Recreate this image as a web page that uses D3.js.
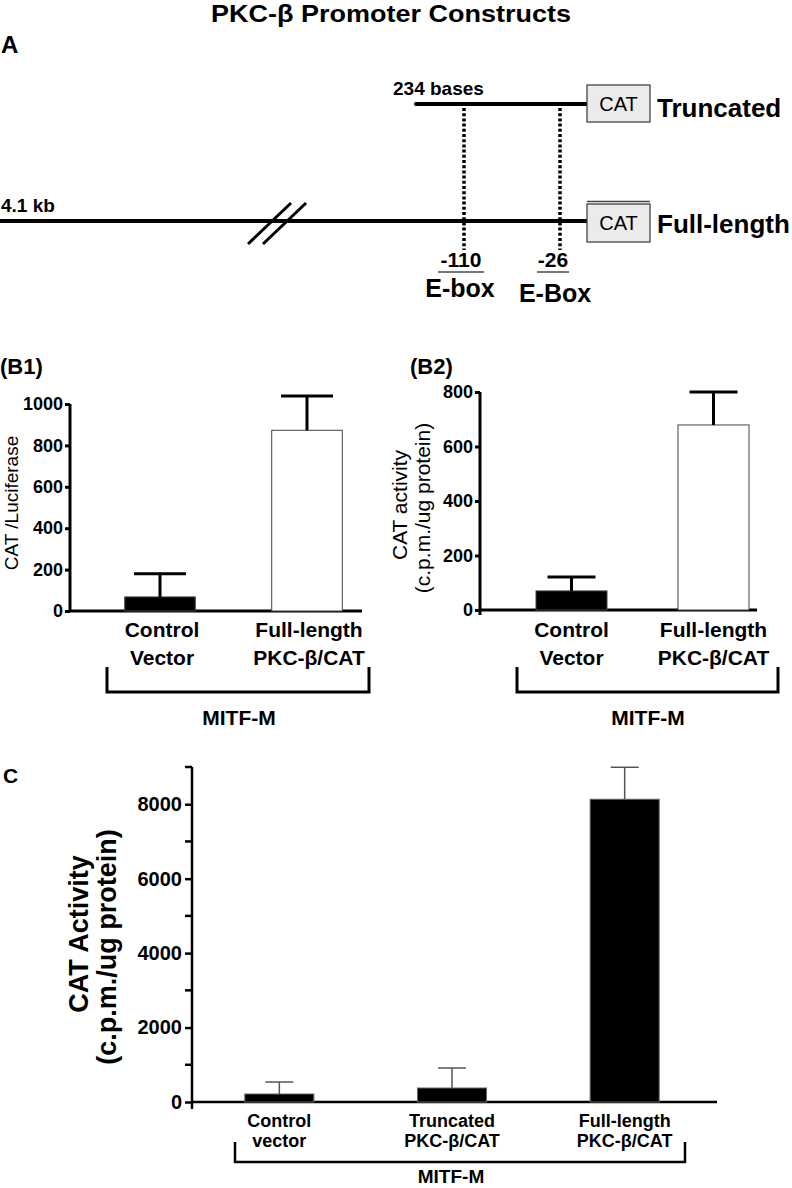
<!DOCTYPE html>
<html>
<head>
<meta charset="utf-8">
<script src="https://cdn.jsdelivr.net/npm/d3@7"></script>
<style>
  html, body { margin: 0; padding: 0; background: #fff; }
  svg { display: block; }
  text { font-family: "Liberation Sans", Arial, Helvetica, sans-serif; fill: #000; }
</style>
</head>
<body>
<svg id="chart" width="792" height="1188"></svg>
<script>
// ---------------- DATA ----------------
const titleText = "PKC-β Promoter Constructs";

// Panel A: promoter schematic labels
const eboxPositions = [-110, -26];
const eboxLabels = ["E-box", "E-Box"];
const constructNames = ["Truncated", "Full-length"];
const constructStarts = ["234 bases", "4.1 kb"];

// Panel B1
const b1Categories = [["Control", "Vector"], ["Full-length", "PKC-β/CAT"]];
const b1Means = [68, 873];
const b1Errors = [112, 166];
const b1Ticks = [0, 200, 400, 600, 800, 1000];

// Panel B2
const b2Categories = [["Control", "Vector"], ["Full-length", "PKC-β/CAT"]];
const b2Means = [70, 679];
const b2Errors = [51, 121];
const b2Ticks = [0, 200, 400, 600, 800];

// Panel C
const cCategories = [["Control", "vector"], ["Truncated", "PKC-β/CAT"], ["Full-length", "PKC-β/CAT"]];
const cMeans = [215, 376, 8134];
const cErrors = [322, 537, 859];
const cTicks = [0, 2000, 4000, 6000, 8000];
const cMinorTicks = [1000, 3000, 5000, 7000, 9000];

const groupLabel = "MITF-M";

// ---------------- DRAW ----------------
const svg = d3.select("#chart");
const FONT = '"Liberation Sans", Arial, Helvetica, sans-serif';

// Title
svg.append("text")
  .attr("x", 391).attr("y", 22)
  .attr("text-anchor", "middle")
  .attr("font-size", 23).attr("font-weight", "bold")
  .attr("textLength", 360).attr("lengthAdjust", "spacingAndGlyphs")
  .text(titleText);

// Panel letters
svg.append("text").attr("x", 1).attr("y", 53).attr("font-size", 24).attr("font-weight", "bold").text("A");
svg.append("text").attr("x", 0).attr("y", 374).attr("font-size", 22).attr("font-weight", "bold").text("(B1)");
svg.append("text").attr("x", 410).attr("y", 374).attr("font-size", 22).attr("font-weight", "bold").text("(B2)");
svg.append("text").attr("x", 3).attr("y", 783).attr("font-size", 21).attr("font-weight", "bold").text("C");

// ---------- Panel A ----------
const A = svg.append("g");
const xA = d3.scaleLinear().domain([-110, -26]).range([464, 560]);
const catX = 587, catW = 63;
const rowY = [104, 221];
const lineStart = [416, 0];

rowY.forEach((y, i) => {
  A.append("line").attr("x1", lineStart[i]).attr("x2", catX).attr("y1", y).attr("y2", y)
    .attr("stroke", "#000").attr("stroke-width", 4).attr("stroke-linecap", i === 0 ? "round" : "butt");
});
[[248, 291], [263, 306]].forEach(([xa, xb]) => {
  A.append("line").attr("x1", xa).attr("y1", 244).attr("x2", xb).attr("y2", 203)
    .attr("stroke", "#000").attr("stroke-width", 3);
});
eboxPositions.forEach(p => {
  A.append("line").attr("x1", xA(p)).attr("x2", xA(p)).attr("y1", 108).attr("y2", 250)
    .attr("stroke", "#000").attr("stroke-width", 3.5).attr("stroke-dasharray", "3,2.2");
});
const boxTop = [85, 204], boxH = [37, 38];
rowY.forEach((y, i) => {
  A.append("rect").attr("x", catX).attr("y", boxTop[i]).attr("width", catW).attr("height", boxH[i])
    .attr("fill", "#ebebeb").attr("stroke", "#444").attr("stroke-width", 1.3);
  A.append("text").attr("x", catX + catW / 2).attr("y", boxTop[i] + 26)
    .attr("text-anchor", "middle").attr("font-size", 20).attr("fill", "#222").text("CAT");
  A.append("text").attr("x", 657).attr("y", i === 0 ? 117 : 233)
    .attr("font-size", 26).attr("font-weight", "bold").text(constructNames[i]);
});
A.append("line").attr("x1", catX).attr("x2", catX + catW).attr("y1", 201.5).attr("y2", 201.5)
  .attr("stroke", "#444").attr("stroke-width", 1.3);
A.append("text").attr("x", 393).attr("y", 95).attr("font-size", 19).attr("font-weight", "bold").text(constructStarts[0]);
A.append("text").attr("x", 1).attr("y", 212).attr("font-size", 19).attr("font-weight", "bold").text(constructStarts[1]);
const posLabelX = [461, 553], ulHalf = [23, 16], eboxX = [460, 555], eboxY = [297, 302];
eboxPositions.forEach((p, i) => {
  A.append("text").attr("x", posLabelX[i]).attr("y", 267).attr("text-anchor", "middle")
    .attr("font-size", 21).attr("font-weight", "bold").text(String(p));
  A.append("line").attr("x1", posLabelX[i] - ulHalf[i]).attr("x2", posLabelX[i] + ulHalf[i])
    .attr("y1", 272).attr("y2", 272).attr("stroke", "#777").attr("stroke-width", 2);
  A.append("text").attr("x", eboxX[i]).attr("y", eboxY[i]).attr("text-anchor", "middle")
    .attr("font-size", 25).attr("font-weight", "bold").text(eboxLabels[i]);
});

// ---------- Bar panel helper ----------
function barPanel(cfg) {
  const g = svg.append("g");
  const y = d3.scaleLinear().domain(cfg.domain).range(cfg.yRange);
  const x = d3.scaleBand().domain(cfg.categories.map((c, i) => i))
    .range(cfg.xRange).paddingInner(cfg.padIn).paddingOuter(cfg.padOut);

  const axis = d3.axisLeft(y).tickValues(cfg.ticks).tickFormat(d3.format("d"))
    .tickSize(cfg.tickSize).tickPadding(cfg.tickPad).tickSizeOuter(0);
  const ax = g.append("g").attr("transform", `translate(${cfg.axisX},0)`).call(axis)
    .attr("font-family", FONT).attr("font-size", cfg.tickFont);
  ax.select(".domain").remove();
  ax.selectAll(".tick line").attr("stroke", "#000").attr("stroke-width", cfg.axisW);
  ax.selectAll(".tick text").style("font-size", cfg.tickFont + "px").style("font-weight", "bold")
    .style("font-family", FONT).attr("fill", "#000");
  if (cfg.minor) {
    g.selectAll(".minor").data(cfg.minor).join("line")
      .attr("x1", cfg.axisX - cfg.tickSize).attr("x2", cfg.axisX)
      .attr("y1", d => y(d)).attr("y2", d => y(d))
      .attr("stroke", "#000").attr("stroke-width", cfg.axisW);
  }
  g.append("line").attr("x1", cfg.axisX).attr("x2", cfg.axisX)
    .attr("y1", y(cfg.domain[1])).attr("y2", y(0) + cfg.axisExt)
    .attr("stroke", "#000").attr("stroke-width", cfg.axisW);
  g.append("line").attr("x1", cfg.axisX).attr("x2", cfg.xAxisEnd)
    .attr("y1", y(0)).attr("y2", y(0)).attr("stroke", "#000").attr("stroke-width", cfg.axisW);

  const idx = cfg.means.map((m, i) => i);
  g.selectAll(".bar").data(idx).join("rect")
    .attr("x", i => x(i)).attr("width", x.bandwidth())
    .attr("y", i => y(cfg.means[i])).attr("height", i => y(0) - y(cfg.means[i]))
    .attr("fill", i => cfg.fills[i]).attr("stroke", cfg.barStroke).attr("stroke-width", 1);
  g.selectAll(".err").data(idx).join("line")
    .attr("x1", i => x(i) + x.bandwidth() / 2).attr("x2", i => x(i) + x.bandwidth() / 2)
    .attr("y1", i => y(cfg.means[i])).attr("y2", i => y(cfg.means[i] + cfg.errors[i]))
    .attr("stroke", cfg.errColor).attr("stroke-width", cfg.errW);
  g.selectAll(".cap").data(idx).join("line")
    .attr("x1", i => x(i) + x.bandwidth() / 2 - cfg.capHalf).attr("x2", i => x(i) + x.bandwidth() / 2 + cfg.capHalf)
    .attr("y1", i => y(cfg.means[i] + cfg.errors[i])).attr("y2", i => y(cfg.means[i] + cfg.errors[i]))
    .attr("stroke", cfg.errColor).attr("stroke-width", cfg.errW);

  idx.forEach(i => {
    const t = g.append("text").attr("text-anchor", "middle")
      .attr("font-size", cfg.catFont).attr("font-weight", "bold");
    cfg.categories[i].forEach((line, k) => {
      t.append("tspan").attr("x", x(i) + x.bandwidth() / 2 + (cfg.labelShift || 0))
        .attr("y", cfg.labelY[k]).text(line);
    });
  });

  const b = cfg.bracket;
  g.append("path")
    .attr("d", `M${b.x0},${b.yTop}V${b.yBot}H${b.x1}V${b.yTop}`)
    .attr("fill", "none").attr("stroke", "#000").attr("stroke-width", cfg.axisW);
  g.append("text").attr("x", b.labelX).attr("y", b.labelY).attr("text-anchor", "middle")
    .attr("font-size", b.font).attr("font-weight", "bold").text(groupLabel);

  cfg.yTitle.forEach(tl => {
    g.append("text")
      .attr("transform", `translate(${tl.x},${tl.y}) rotate(-90)`)
      .attr("text-anchor", "middle").attr("font-size", tl.size)
      .attr("font-weight", tl.bold ? "bold" : "normal").text(tl.text);
  });
}

// Panel B1
barPanel({
  domain: [0, 1000], yRange: [611, 404], ticks: b1Ticks,
  categories: b1Categories, means: b1Means, errors: b1Errors,
  fills: ["#000", "#fff"], barStroke: "#444",
  xRange: [86.5, 380.5], padIn: 0.52, padOut: 0.26,
  axisX: 70, xAxisEnd: 362, axisExt: 0, axisW: 3,
  tickSize: 5, tickPad: 2, tickFont: 18,
  errColor: "#000", errW: 3, capHalf: 26,
  catFont: 21, labelY: [637, 665], labelShift: 2,
  bracket: { x0: 107, x1: 369, yTop: 667, yBot: 692, labelX: 239, labelY: 725, font: 21 },
  yTitle: [{ text: "CAT /Luciferase", x: 18, y: 503, size: 19, bold: false }]
});

// Panel B2
barPanel({
  domain: [0, 800], yRange: [610, 392], ticks: b2Ticks,
  categories: b2Categories, means: b2Means, errors: b2Errors,
  fills: ["#000", "#fff"], barStroke: "#444",
  xRange: [500.5, 784.5], padIn: 0.5, padOut: 0.25,
  axisX: 480, xAxisEnd: 757, axisExt: 5, axisW: 3,
  tickSize: 5, tickPad: 2, tickFont: 18,
  errColor: "#000", errW: 3, capHalf: 24,
  catFont: 21, labelY: [637, 665], labelShift: 0,
  bracket: { x0: 517, x1: 778, yTop: 667, yBot: 692, labelX: 648, labelY: 725, font: 21 },
  yTitle: [
    { text: "CAT activity", x: 407, y: 505, size: 21, bold: false },
    { text: "(c.p.m./ug protein)", x: 430, y: 508, size: 21, bold: false }
  ]
});

// Panel C
barPanel({
  domain: [0, 9000], yRange: [1102, 767], ticks: cTicks, minor: cMinorTicks,
  categories: cCategories, means: cMeans, errors: cErrors,
  fills: ["#000", "#000", "#000"], barStroke: "#666",
  xRange: [193, 711], padIn: 0.6, padOut: 0.3,
  axisX: 192, xAxisEnd: 717, axisExt: 7, axisW: 2.5,
  tickSize: 7, tickPad: 3, tickFont: 20,
  errColor: "#555", errW: 1.5, capHalf: 14,
  catFont: 18, labelY: [1127, 1147], labelShift: 0,
  bracket: { x0: 235, x1: 685, yTop: 1142, yBot: 1162, labelX: 451, labelY: 1183, font: 19 },
  yTitle: [
    { text: "CAT Activity", x: 88, y: 934, size: 27, bold: true },
    { text: "(c.p.m./ug protein)", x: 116, y: 947, size: 27, bold: true }
  ]
});
</script>
</body>
</html>
